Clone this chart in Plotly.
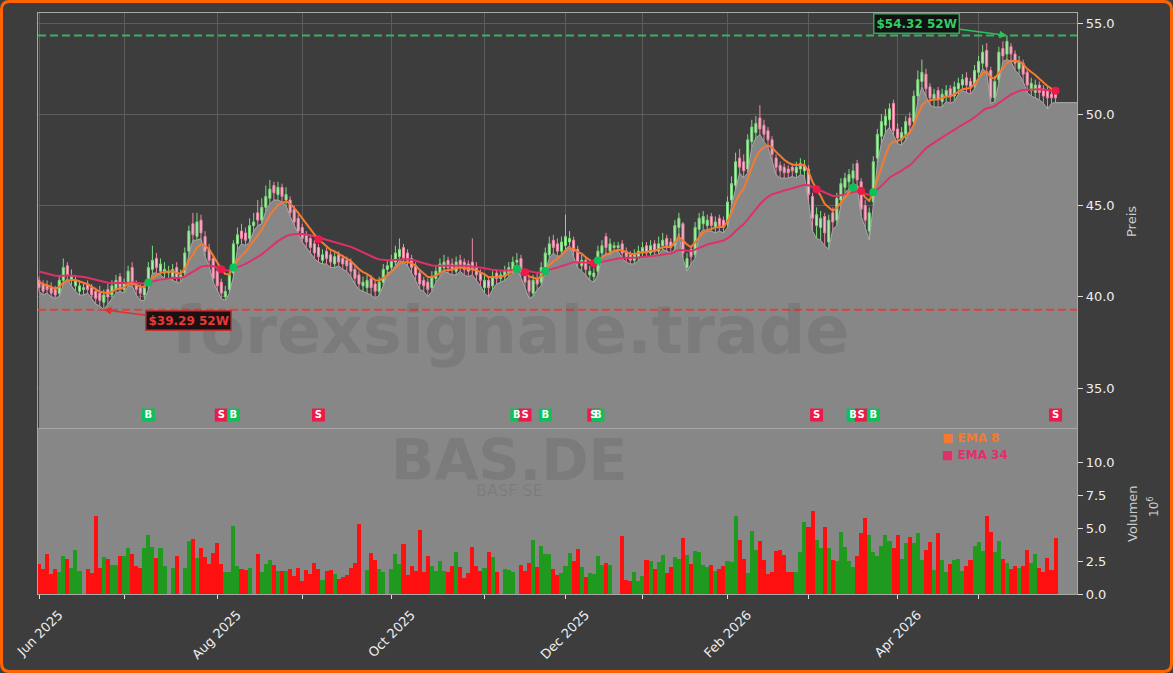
import pandas as pd
import plotly.graph_objects as go

# ---------------- data ----------------
holidays = ["2025-12-24", "2025-12-25", "2025-12-26", "2025-12-31",
            "2026-01-01", "2026-04-03", "2026-04-06", "2026-05-01"]
trading_days = [d for d in pd.bdate_range("2025-06-02", "2026-05-29")
                if d.strftime("%Y-%m-%d") not in holidays]

warmup_closes = [41.9, 41.7, 41.8, 41.5, 41.6, 41.3, 41.4, 41.2, 41.0, 41.1,
                 40.8, 40.9, 40.7, 40.8, 40.6]

opens = [
    40.9, 40.7, 40.6, 40.5, 40.4, 40.2, 40.9, 41.7, 40.9, 40.6,
    40.3, 40.4, 40.7, 40.5, 40.3, 40.2, 39.7, 40.4, 40.1, 40.4,
    41.1, 40.4, 40.8, 41.6, 40.7, 40.5, 40.1, 40.6, 41.5, 42.1,
    41.4, 41.3, 41.3, 41.1, 41.6, 41.0, 41.3, 42.5, 44.0, 43.3,
    44.2, 43.3, 42.6, 42.1, 41.4, 40.8, 40.0, 40.4, 41.3, 42.9,
    43.6, 43.5, 43.2, 43.9, 44.6, 44.2, 44.9, 45.4, 46.1, 45.6,
    46.0, 45.3, 45.3, 44.8, 44.3, 43.8, 43.4, 43.2, 42.9, 42.7,
    42.0, 42.5, 42.3, 41.8, 42.3, 42.1, 42.0, 41.9, 41.5, 41.2,
    40.6, 40.5, 41.0, 40.7, 40.3, 40.8, 41.5, 41.6, 41.9, 42.2,
    42.7, 42.4, 42.1, 41.7, 41.3, 40.9, 40.8, 40.5, 41.0, 41.3,
    41.6, 42.0, 41.8, 41.4, 42.0, 41.9, 41.8, 41.9, 41.6, 41.3,
    40.5, 40.9, 40.6, 41.3, 41.0, 41.1, 41.3, 41.5, 41.9, 42.1,
    41.3, 40.9, 40.2, 41.0, 40.8, 41.6, 42.3, 43.1, 42.9, 42.5,
    42.8, 43.0, 43.1, 42.6, 41.7, 42.0, 41.2, 41.1, 41.4, 42.4,
    43.3, 42.5, 42.7, 42.7, 42.9, 42.5, 42.3, 42.0, 42.2, 42.4,
    42.8, 42.4, 42.9, 42.5, 42.8, 43.2, 43.0, 42.8, 43.8, 44.0,
    41.6, 42.6, 42.3, 43.7, 44.0, 43.9, 44.4, 43.8, 44.3, 44.2,
    44.0, 45.3, 46.1, 47.6, 47.4, 47.0, 48.5, 49.0, 49.8, 49.4,
    49.1, 48.6, 47.6, 47.2, 47.1, 47.0, 47.1, 46.8, 47.0, 46.9,
    47.0, 45.5, 43.9, 43.8, 44.4, 43.0, 44.6, 44.2, 45.3, 46.0,
    46.3, 46.5, 47.3, 46.3, 45.0, 43.6, 45.2, 47.6, 48.8, 49.4,
    49.7, 50.6, 49.2, 48.6, 48.9, 49.8, 49.6, 51.0, 51.8, 52.2,
    51.5, 50.8, 51.3, 50.7, 51.0, 51.4, 51.0, 51.4, 51.6, 52.0,
    51.8, 51.6, 52.3, 52.8, 53.5, 52.4, 50.9, 51.9, 53.6, 53.3,
    53.7, 53.3, 52.5, 52.8, 52.3, 51.3, 51.2, 51.6, 51.4, 51.3,
    51.1, 51.2,
]

closes = [
    40.5, 40.3, 40.4, 40.2, 40.1, 40.9, 41.6, 41.2, 41.1, 40.9,
    40.6, 40.5, 40.4, 40.1, 39.9, 39.8, 40.1, 40.0, 40.6, 40.9,
    40.5, 40.8, 41.4, 40.8, 40.4, 40.2, 40.5, 41.6, 42.0, 41.6,
    41.8, 41.5, 41.4, 41.5, 41.0, 41.2, 42.4, 43.6, 43.4, 44.1,
    43.5, 42.5, 42.0, 41.0, 40.6, 40.2, 40.3, 41.2, 42.9, 43.4,
    43.2, 43.1, 43.9, 44.1, 44.2, 44.9, 45.5, 45.9, 45.7, 46.0,
    45.5, 45.6, 44.6, 44.1, 43.6, 43.2, 43.0, 42.7, 42.4, 42.2,
    42.3, 42.1, 41.9, 42.2, 41.9, 41.8, 41.7, 41.4, 41.0, 40.7,
    40.8, 40.9, 40.5, 40.3, 40.8, 41.5, 41.7, 42.0, 42.4, 42.6,
    42.1, 42.0, 41.6, 41.2, 40.7, 40.6, 40.4, 41.1, 41.4, 41.8,
    41.9, 41.6, 41.5, 41.9, 41.7, 41.5, 41.4, 41.5, 41.2, 40.9,
    40.9, 40.5, 41.1, 41.0, 41.2, 41.4, 41.6, 41.9, 42.0, 41.4,
    40.8, 40.3, 40.9, 40.7, 41.6, 42.4, 42.9, 42.7, 42.5, 43.0,
    43.3, 43.2, 42.5, 41.9, 42.0, 41.5, 41.4, 41.3, 42.5, 42.8,
    42.7, 42.9, 42.8, 42.8, 42.4, 42.2, 42.0, 42.3, 42.5, 42.7,
    42.4, 42.8, 42.5, 42.9, 43.1, 42.8, 42.7, 43.9, 44.3, 42.4,
    42.1, 42.2, 43.8, 44.3, 44.4, 44.2, 43.9, 44.1, 43.9, 43.8,
    45.2, 46.2, 47.4, 47.1, 46.9, 48.6, 49.3, 49.5, 49.2, 48.9,
    48.6, 47.8, 47.1, 46.9, 46.8, 46.8, 46.9, 47.1, 47.3, 47.2,
    45.6, 44.3, 44.5, 44.3, 43.5, 44.2, 44.1, 45.4, 46.2, 46.5,
    46.7, 46.9, 46.4, 44.8, 44.2, 44.6, 47.4, 48.9, 49.6, 49.9,
    50.3, 49.1, 48.7, 49.0, 49.6, 49.4, 51.0, 51.9, 52.3, 51.4,
    50.9, 51.1, 50.8, 51.1, 51.3, 51.0, 51.5, 51.7, 51.9, 51.6,
    51.5, 52.4, 52.9, 53.4, 52.6, 50.9, 51.8, 53.4, 53.2, 54.0,
    53.3, 52.8, 52.9, 52.2, 51.6, 51.7, 51.6, 51.2, 51.0, 50.9,
    50.9, 50.9,
]

highs = [
    41.1, 40.9, 40.9, 40.8, 40.6, 41.2, 42.1, 41.9, 41.5, 41.2,
    40.9, 40.8, 40.9, 40.7, 40.5, 40.6, 40.4, 40.7, 40.9, 41.2,
    41.3, 41.0, 41.7, 41.9, 40.9, 40.7, 40.8, 41.9, 42.8, 42.4,
    42.1, 41.9, 41.7, 41.8, 41.9, 41.5, 42.7, 43.9, 44.6, 44.6,
    44.5, 43.6, 42.9, 42.3, 41.6, 41.0, 40.6, 41.5, 43.1, 43.8,
    44.0, 43.8, 44.3, 44.6, 45.3, 45.4, 46.1, 46.4, 46.3, 46.3,
    46.2, 46.0, 45.5, 45.0, 44.5, 44.0, 43.6, 43.4, 43.1, 42.9,
    42.6, 42.7, 42.5, 42.5, 42.5, 42.3, 42.2, 42.1, 41.7, 41.4,
    41.1, 41.2, 41.2, 40.9, 41.1, 41.8, 42.0, 42.3, 42.8, 43.2,
    42.9, 42.6, 42.3, 41.9, 41.5, 41.1, 41.0, 41.4, 41.7, 42.1,
    42.3, 42.2, 42.1, 42.2, 42.3, 42.1, 42.0, 43.2, 41.9, 41.5,
    41.2, 41.1, 41.4, 41.5, 41.4, 41.7, 41.9, 42.2, 42.4, 42.3,
    41.5, 41.1, 41.2, 41.3, 41.9, 42.7, 43.3, 43.4, 43.2, 43.3,
    44.5, 43.6, 43.3, 42.8, 42.3, 42.2, 41.7, 41.6, 42.8, 43.1,
    43.5, 43.2, 43.0, 43.0, 43.1, 42.7, 42.5, 42.6, 42.8, 43.0,
    43.0, 43.1, 43.1, 43.3, 43.5, 43.4, 43.2, 44.2, 44.6, 44.1,
    42.4, 42.8, 44.1, 44.6, 44.7, 44.5, 44.6, 44.4, 44.5, 44.4,
    45.5, 46.6, 47.9, 48.1, 47.8, 48.9, 49.7, 49.9, 50.5, 49.7,
    49.3, 48.8, 47.8, 47.4, 47.3, 47.2, 47.3, 47.4, 47.6, 47.5,
    47.2, 45.7, 44.9, 44.7, 44.6, 44.5, 44.9, 45.7, 46.5, 46.8,
    47.0, 47.3, 47.5, 46.5, 45.3, 44.9, 47.7, 49.2, 50.0, 50.3,
    50.6, 50.8, 49.5, 49.3, 49.9, 50.1, 51.3, 52.4, 53.0, 52.5,
    51.7, 51.4, 51.5, 51.4, 51.6, 51.6, 51.8, 52.0, 52.2, 52.3,
    52.0, 52.7, 53.2, 53.8, 53.9, 52.6, 52.1, 53.7, 54.0, 54.32,
    53.9, 53.5, 53.2, 53.0, 52.5, 52.0, 51.9, 51.8, 51.6, 51.5,
    51.3, 51.4,
]

lows = [
    40.3, 40.1, 40.2, 40.0, 39.9, 40.0, 40.7, 41.0, 40.6, 40.3,
    40.1, 40.1, 40.2, 39.9, 39.6, 39.5, 39.29, 39.6, 39.9, 40.2,
    40.3, 40.2, 40.6, 40.6, 40.1, 39.8, 39.8, 40.4, 41.3, 41.3,
    41.2, 41.0, 41.0, 40.9, 40.8, 40.8, 41.2, 42.3, 43.1, 43.1,
    43.2, 42.2, 41.7, 40.8, 40.3, 39.9, 39.8, 40.2, 41.1, 42.6,
    42.9, 42.8, 43.0, 43.6, 43.9, 44.0, 44.7, 45.1, 45.3, 45.3,
    45.2, 45.0, 44.4, 43.9, 43.4, 43.0, 42.7, 42.4, 42.1, 41.9,
    41.8, 41.8, 41.6, 41.6, 41.7, 41.5, 41.4, 41.1, 40.7, 40.4,
    40.3, 40.2, 40.1, 39.9, 40.1, 40.6, 41.3, 41.4, 41.7, 42.0,
    41.9, 41.7, 41.3, 40.9, 40.4, 40.3, 40.0, 40.3, 40.8, 41.1,
    41.4, 41.3, 41.2, 41.2, 41.4, 41.2, 41.1, 41.2, 40.9, 40.6,
    40.2, 40.0, 40.4, 40.7, 40.8, 40.9, 41.1, 41.3, 41.6, 41.1,
    40.5, 39.9, 40.0, 40.4, 40.6, 41.4, 42.1, 42.4, 42.2, 42.3,
    42.6, 42.8, 42.2, 41.6, 41.4, 41.2, 40.9, 40.8, 41.2, 42.2,
    42.4, 42.3, 42.5, 42.5, 42.1, 41.9, 41.8, 41.8, 42.0, 42.2,
    42.2, 42.2, 42.3, 42.3, 42.6, 42.5, 42.4, 42.6, 43.5, 42.1,
    41.4, 41.8, 42.1, 43.4, 43.7, 43.6, 43.6, 43.5, 43.6, 43.5,
    43.8, 45.0, 45.9, 46.8, 46.5, 46.8, 48.2, 48.7, 48.9, 48.5,
    48.2, 47.4, 46.7, 46.5, 46.5, 46.5, 46.6, 46.5, 46.7, 46.6,
    45.2, 43.6, 43.2, 43.1, 42.8, 42.6, 43.7, 43.9, 45.0, 45.7,
    45.9, 46.2, 46.1, 44.4, 43.8, 43.1, 45.0, 47.3, 48.4, 49.0,
    49.3, 48.8, 48.4, 48.3, 48.6, 49.1, 49.4, 50.7, 51.5, 51.0,
    50.5, 50.4, 50.4, 50.4, 50.7, 50.6, 50.7, 51.1, 51.3, 51.2,
    51.1, 51.4, 52.0, 52.5, 52.3, 50.6, 50.7, 51.7, 52.9, 53.0,
    52.9, 52.4, 52.2, 51.8, 51.2, 51.0, 50.9, 50.8, 50.6, 50.3,
    50.6, 50.64,
]

volume_millions = [
    2.3, 1.9, 3.0, 1.5, 1.9, 1.7, 2.9, 2.65, 2.0, 3.3,
    1.75, 0.0, 1.9, 1.6, 5.9, 2.0, 2.8, 2.65, 2.2, 2.2,
    2.9, 2.9, 3.5, 3.0, 2.1, 2.0, 3.5, 4.5, 3.6, 2.7,
    3.5, 2.1, 0.0, 2.0, 2.9, 0.0, 2.0, 4.0, 4.2, 2.7,
    3.5, 2.8, 2.3, 3.1, 3.9, 2.3, 1.7, 1.7, 5.15, 2.1,
    1.9, 1.8, 2.0, 0.0, 3.0, 1.7, 2.3, 2.6, 2.2, 1.75,
    1.75, 1.75, 1.9, 1.4, 2.0, 1.0, 1.8, 1.5, 2.35, 1.9,
    1.05, 1.75, 1.8, 1.5, 1.15, 1.3, 1.45, 2.0, 2.35, 5.3,
    0.0, 1.8, 3.1, 2.6, 1.9, 1.7, 0.0, 1.9, 3.0, 2.3,
    3.8, 1.45, 2.1, 1.75, 4.85, 1.65, 2.9, 2.1, 1.75, 2.5,
    1.75, 1.65, 2.1, 3.2, 2.05, 1.2, 1.6, 3.55, 2.1, 1.75,
    1.95, 3.2, 2.8, 1.65, 0.0, 1.9, 1.8, 1.65, 0.0, 2.2,
    1.75, 2.35, 4.1, 2.05, 3.65, 3.0, 3.0, 1.9, 1.45, 1.6,
    2.1, 3.1, 2.5, 3.4, 2.05, 1.3, 1.6, 1.5, 2.9, 2.2,
    2.35, 2.2, 0.0, 0.0, 4.4, 1.05, 1.0, 1.65, 1.0, 1.35,
    2.6, 2.5, 1.9, 2.4, 2.95, 1.6, 2.05, 2.8, 2.65, 4.25,
    2.95, 2.3, 3.25, 3.2, 2.2, 2.05, 2.2, 1.75, 1.9, 2.1,
    2.5, 2.4, 5.9, 4.1, 2.65, 1.6, 4.8, 3.3, 4.0, 2.6,
    1.5, 1.65, 3.25, 3.3, 2.95, 1.65, 1.65, 1.65, 3.2, 5.45,
    5.1, 6.3, 4.1, 3.5, 5.1, 3.5, 2.6, 2.5, 4.7, 3.55,
    2.5, 2.05, 2.9, 4.6, 5.75, 4.45, 3.2, 2.9, 3.65, 4.45,
    4.0, 3.5, 4.45, 2.65, 3.85, 4.3, 3.85, 4.6, 2.6, 3.3,
    3.95, 1.8, 4.6, 2.6, 1.65, 2.3, 2.6, 2.65, 1.75, 2.1,
    2.6, 3.65, 3.95, 3.25, 5.9, 4.7, 3.2, 4.0, 2.65, 2.35,
    1.9, 2.1, 1.95, 2.1, 3.35, 2.35, 3.0, 1.95, 1.65, 2.75,
    1.8, 4.25,
]

signal_dates = ["2025-07-09", "2025-08-04", "2025-08-07", "2025-09-05",
                "2025-11-13", "2025-11-17", "2025-11-24", "2025-12-10",
                "2025-12-11", "2026-03-04", "2026-03-17", "2026-03-19",
                "2026-03-24", "2026-05-29"]
signal_types = ["B", "S", "B", "S", "B", "S", "B", "S", "B", "S", "B", "S", "B", "S"]

month_labels = ["Jun 2025", "", "Aug 2025", "", "Oct 2025", "", "Dec 2025", "",
                "Feb 2026", "", "Apr 2026", ""]
volume_ticks = [0.0, 2.5, 5.0, 7.5, 10.0]

n = len(closes)
assert len(opens) == n and len(highs) == n and len(lows) == n
assert len(volume_millions) == n and len(trading_days) == n

# ---------------- derived ----------------
x_idx = list(range(n))
all_c = pd.Series(warmup_closes + closes)
ema8 = all_c.ewm(span=8, adjust=False).mean().tolist()[len(warmup_closes):]
ema34 = all_c.ewm(span=34, adjust=False).mean().tolist()[len(warmup_closes):]

day_str = [d.strftime("%Y-%m-%d") for d in trading_days]
sig_idx = [day_str.index(s) for s in signal_dates]

month_idx = [i for i in range(n) if i == 0 or trading_days[i].month != trading_days[i - 1].month]

hi52 = max(highs)
hi52_i = highs.index(hi52)
lo52 = min(lows)
lo52_i = lows.index(lo52)

# ---------------- styling ----------------
W, H = 1173, 673
ML, MR, MT, MB = 38, 96, 13, 79
PW, PH = W - ML - MR, H - MT - MB
VOL_TOP = (594 - 428) / PH
X_RANGE = [-0.25, 256.3]
P_RANGE = [32.81, 55.55]
V_RANGE = [0, 12.58]
SIGNAL_Y = 33.52

BG = "#3d3d3d"
GRID = "#5d5d5d"
SPINE = "#a8a8a8"
TXT = "#eeeeee"
FONT = "DejaVu Sans"
EMA8_C = "#f47a30"
EMA34_C = "#e0306a"
BUY_C = "#0cc15a"
SELL_C = "#ec1a4a"
WM = "rgba(40,40,40,0.12)"

def px_x(px):
    return (px - ML) / PW

def px_y(py):
    return (H - MB - py) / PH

fig = go.Figure()

# low area
fig.add_trace(go.Scatter(
    x=x_idx + [X_RANGE[1]], y=lows + [lows[-1]], mode="lines",
    fill="tozeroy", fillcolor="#878787", line=dict(color="#a9a9a9", width=1),
    xaxis="x", yaxis="y", hoverinfo="skip", showlegend=False))

# candles
fig.add_trace(go.Candlestick(
    x=x_idx, open=opens, high=highs, low=lows, close=closes,
    increasing=dict(line=dict(color="#7fdc7f", width=1), fillcolor="#b8eeb8"),
    decreasing=dict(line=dict(color="#f088a8", width=1), fillcolor="#f6bfd0"),
    whiskerwidth=0, xaxis="x", yaxis="y", showlegend=False, hoverinfo="skip"))

# EMAs
fig.add_trace(go.Scatter(x=x_idx, y=ema34, mode="lines", line=dict(color=EMA34_C, width=2),
                         xaxis="x", yaxis="y", showlegend=False, hoverinfo="skip"))
fig.add_trace(go.Scatter(x=x_idx, y=ema8, mode="lines", line=dict(color=EMA8_C, width=2),
                         xaxis="x", yaxis="y", showlegend=False, hoverinfo="skip"))

# crossover dots
sig_col = [BUY_C if t == "B" else SELL_C for t in signal_types]
fig.add_trace(go.Scatter(x=sig_idx, y=[ema8[i] for i in sig_idx], mode="markers",
                         marker=dict(color=sig_col, size=8, line=dict(width=0)),
                         xaxis="x", yaxis="y", showlegend=False, hoverinfo="skip"))

# B/S boxes
fig.add_trace(go.Scatter(x=sig_idx, y=[SIGNAL_Y] * len(sig_idx), mode="markers+text",
                         marker=dict(symbol="square", color=sig_col, size=13, line=dict(width=0)),
                         text=signal_types, textposition="middle center",
                         textfont=dict(family=FONT, size=10, color="white", weight="bold"),
                         xaxis="x", yaxis="y", showlegend=False, hoverinfo="skip"))

# volume
vol_col = ["#1f9a1f" if c >= o else "#ff1010" for o, c in zip(opens, closes)]
fig.add_trace(go.Bar(x=x_idx, y=volume_millions, marker=dict(color=vol_col, line=dict(width=0)),
                     width=1.0, xaxis="x2", yaxis="y2", showlegend=False, hoverinfo="skip"))

shapes = [
    dict(type="rect", xref="paper", yref="paper", x0=0, x1=1, y0=0, y1=VOL_TOP,
         fillcolor="#878787", line=dict(width=0), layer="below"),
    dict(type="line", xref="x domain", yref="y", x0=0, x1=1, y0=hi52, y1=hi52,
         line=dict(color="#3daf63", width=2, dash="8px,4px")),
    dict(type="line", xref="x domain", yref="y", x0=0, x1=1, y0=lo52, y1=lo52,
         line=dict(color="#dc4242", width=2, dash="8px,4px")),
]
x0, x1 = px_x(1.5), px_x(W - 1.5)
y1, y0 = px_y(1.5), px_y(H - 1.5)
rx, ry = 8 / PW, 8 / PH
path = (f"M {x0+rx},{y1} L {x1-rx},{y1} Q {x1},{y1} {x1},{y1-ry} L {x1},{y0+ry} "
        f"Q {x1},{y0} {x1-rx},{y0} L {x0+rx},{y0} Q {x0},{y0} {x0},{y0+ry} "
        f"L {x0},{y1-ry} Q {x0},{y1} {x0+rx},{y1} Z")
shapes.append(dict(type="path", xref="paper", yref="paper", path=path,
                   line=dict(color="#ff6400", width=3)))

def paper_text(text, px, py, size, color, bold=False, angle=0, xanchor="center"):
    f = dict(family=FONT, size=size, color=color)
    if bold:
        f["weight"] = "bold"
    return dict(text=text, xref="paper", yref="paper", x=px_x(px), y=px_y(py),
                xanchor=xanchor, yanchor="middle", textangle=angle,
                showarrow=False, font=f)

annotations = [
    paper_text("forexsignale.trade", 510, 330, 65, WM, bold=True),
    paper_text("BAS.DE", 509, 460, 57, WM, bold=True),
    paper_text("BASF SE", 509, 490, 16, WM),
    dict(text=f"${hi52:.2f} 52W", x=hi52_i, y=hi52, xref="x", yref="y",
         ax=-90, ay=-12, showarrow=True, arrowhead=2, arrowsize=1, arrowwidth=1.5,
         arrowcolor="#2fbf5f", bgcolor="#121212", bordercolor="#2fa85a", borderwidth=1.5,
         borderpad=2, font=dict(family=FONT, size=12, color="#33cc66", weight="bold")),
    dict(text=f"${lo52:.2f} 52W", x=lo52_i, y=lo52, xref="x", yref="y",
         ax=85, ay=11, showarrow=True, arrowhead=2, arrowsize=1, arrowwidth=1.5,
         arrowcolor="#e03030", bgcolor="#1a1212", bordercolor="#c83232", borderwidth=1.5,
         borderpad=2, font=dict(family=FONT, size=12, color="#e83838", weight="bold")),
    paper_text("■ EMA 8", 940, 438, 12, EMA8_C, bold=True, xanchor="left"),
    paper_text("■ EMA 34", 940, 455, 12, EMA34_C, bold=True, xanchor="left"),
    paper_text("Preis", 1132, 222, 13, "#cccccc", angle=-90),
    paper_text("Volumen", 1132, 514, 13, "#cccccc", angle=-90),
    paper_text("10<sup>6</sup>", 1153, 507, 12, "#cccccc", angle=-90),
]

axis_common = dict(zeroline=False, showline=True, linecolor=SPINE, linewidth=1.2,
                   automargin=False,
                   tickfont=dict(family=FONT, size=13, color=TXT), tickcolor="#dddddd")

fig.update_layout(
    width=W, height=H, paper_bgcolor=BG, plot_bgcolor=BG,
    margin=dict(l=ML, r=MR, t=MT, b=MB, autoexpand=False), hovermode=False, showlegend=False,
    font=dict(family=FONT, color=TXT),
    bargap=0,
    xaxis=dict(domain=[0, 1], anchor="y", range=X_RANGE, tickvals=month_idx, mirror=True,
               showticklabels=False, ticks="", showgrid=True, gridcolor=GRID, gridwidth=1,
               rangeslider=dict(visible=False), **axis_common),
    yaxis=dict(domain=[VOL_TOP, 1], anchor="x", side="right", range=P_RANGE, mirror=True,
               tick0=35, dtick=5, tickformat=".1f", ticks="outside", ticklen=5,
               showgrid=True, gridcolor=GRID, gridwidth=1, **axis_common),
    xaxis2=dict(domain=[0, 1], anchor="y2", range=X_RANGE, tickvals=month_idx,
                ticktext=month_labels, tickangle=-45, ticks="outside", ticklen=4,
                ticklabelshift=20, ticklabelstandoff=3, ticklabeloverflow="allow",
                showgrid=False, mirror=False, **axis_common),
    yaxis2=dict(domain=[0, VOL_TOP], anchor="x2", side="right", range=V_RANGE, mirror=True,
                tickvals=volume_ticks, tickformat=".1f", ticks="outside", ticklen=5,
                showgrid=False, **axis_common),
    shapes=shapes, annotations=annotations,
)

fig.write_html("out.html")
